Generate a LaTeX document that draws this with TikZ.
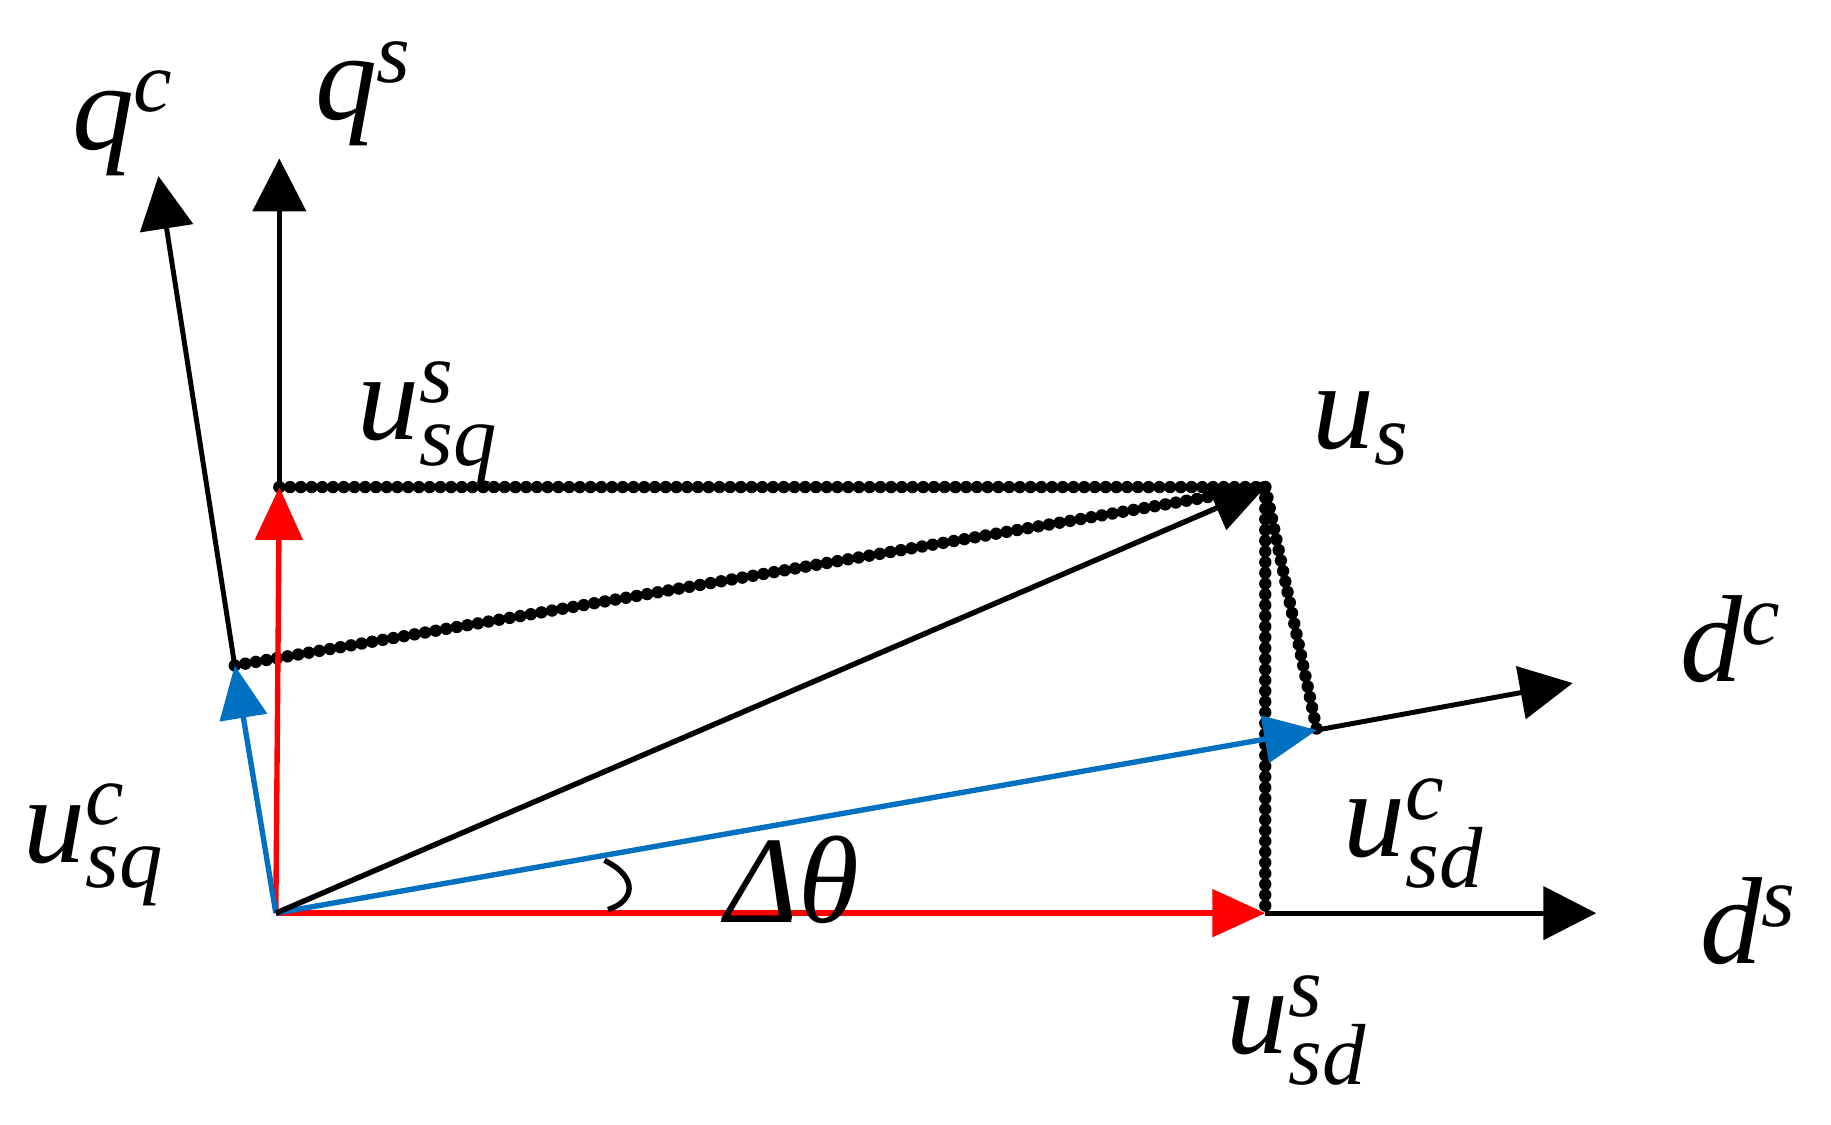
\documentclass[tikz,border=0pt]{standalone}
\usepackage{fontspec}
\setmainfont{Liberation Serif}
\usetikzlibrary{arrows.meta}
\definecolor{myblue}{RGB}{0,112,192}
\begin{document}
\begin{tikzpicture}[x=0.01cm,y=-0.01cm,
 ax/.style={line width=1.2pt,-{Triangle[length=0.45cm,width=0.45cm]}},
 vec/.style={line width=1.3pt,-{Triangle[length=0.45cm,width=0.4cm]}},
 dot/.style={line width=3pt,line cap=round,dash pattern=on 0pt off 2.6pt},
 lab/.style={font=\fontsize{30}{32}\selectfont\itshape,inner sep=0pt}]
\useasboundingbox (0,0) rectangle (1560,958);
\coordinate (O) at (235,778);
\coordinate (A) at (238,415);
\coordinate (B) at (200,567);
\coordinate (C) at (1122,622);
\coordinate (D) at (1078,778);
\coordinate (U) at (1078,415);
\coordinate (Qs) at (238,135);
\coordinate (Qc) at (135,150);
\coordinate (Ds) at (1360,778);
\coordinate (Dc) at (1340,582);
% axes
\draw[ax] (A) -- (Qs);
\draw[ax] (B) -- (Qc);
\draw[ax] (D) -- (Ds);
\draw[ax] (C) -- (Dc);
% dotted
\draw[dot] (A) -- (U);
\draw[dot] (B) -- (U);
\draw[dot] (U) -- (D);
\draw[dot] (U) -- (C);
% vectors
\draw[vec,red] (O) -- (A);
\draw[vec,red] (O) -- (D);
\draw[vec,myblue] (O) -- (B);
\draw[vec,myblue] (O) -- (C);
\draw[vec,black] (O) -- (U);
% angle
\draw[line width=1.3pt] (515,733) .. controls (545,748) and (540,768) .. (518,775);
% labels
\node[lab] (lqc) at (105,105) {q\textsuperscript{c}};
\node[lab] (lqs) at (310,80) {q\textsuperscript{s}};
\node[lab] (lusqs) at (365,360) {u$_{\mathit{sq}}^{\mathit{s}}$};
\node[lab] (lus) at (1160,365) {u$_{\mathit{s}}$};
\node[lab] (ldc) at (1475,545) {d\textsuperscript{c}};
\node[lab] (lusdc) at (1205,710) {u$_{\mathit{sd}}^{\mathit{c}}$};
\node[lab] (lds) at (1490,785) {d\textsuperscript{s}};
\node[lab] (lusds) at (1105,878) {u$_{\mathit{sd}}^{\mathit{s}}$};
\node[lab] (lusqc) at (80,720) {u$_{\mathit{sq}}^{\mathit{c}}$};
\node[lab] (ldt) at (675,750) {Δθ};
\end{tikzpicture}
\end{document}
